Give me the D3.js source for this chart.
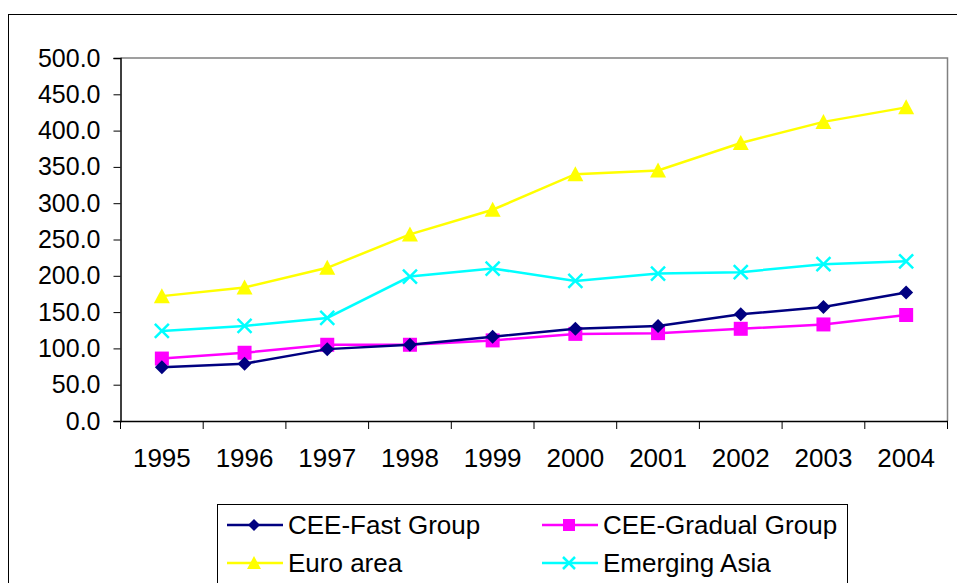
<!DOCTYPE html>
<html>
<head>
<meta charset="utf-8">
<script src="https://cdn.jsdelivr.net/npm/d3@7"></script>
<style>
  body { margin: 0; background: #fff; }
  svg { display: block; font-family: "Liberation Sans", Arial, sans-serif; }
</style>
</head>
<body>
<script>
// data
const years = ["1995", "1996", "1997", "1998", "1999", "2000", "2001", "2002", "2003", "2004"];
const ceeFast = [74, 79, 99, 105, 116, 127, 131, 147, 157, 177];
const ceeGradual = [86, 94, 105, 105, 111, 120, 121, 127, 133, 146];
const euroArea = [172, 184, 211, 257, 291, 340, 345, 383, 412, 432];
const emergingAsia = [124, 131, 142, 199, 210, 193, 203, 205, 216, 220];
const yTicks = [0, 50, 100, 150, 200, 250, 300, 350, 400, 450, 500];

const series = [
	{ name: "CEE-Fast Group", values: ceeFast, color: "#000080", marker: "diamond" },
	{ name: "CEE-Gradual Group", values: ceeGradual, color: "#ff00ff", marker: "square" },
	{ name: "Euro area", values: euroArea, color: "#ffff00", marker: "triangle" },
	{ name: "Emerging Asia", values: emergingAsia, color: "#00ffff", marker: "cross" }
];

const W = 957, H = 583;
const plot = { left: 120.5, right: 947.5, top: 58, bottom: 421 };

const svg = d3.select("body").append("svg")
	.attr("width", W)
	.attr("height", H);

// outer chart frame (runs off the right and bottom edges)
svg.append("rect")
	.attr("x", 8.5).attr("y", 14.5)
	.attr("width", W).attr("height", H)
	.attr("fill", "none")
	.attr("stroke", "#000")
	.attr("stroke-width", 1);

const x = d3.scaleBand()
	.domain(years)
	.range([plot.left, plot.right]);

const y = d3.scaleLinear()
	.domain([0, 500])
	.range([plot.bottom, plot.top]);

// plot area border on top and right
svg.append("path")
	.attr("d", `M${plot.left},${plot.top}H${plot.right}V${plot.bottom}`)
	.attr("fill", "none")
	.attr("stroke", "#808080")
	.attr("stroke-width", 1.5);

// y axis
const yAxis = svg.append("g")
	.attr("transform", `translate(${plot.left},0)`)
	.call(d3.axisLeft(y).tickValues(yTicks).tickSize(7).tickPadding(13).tickFormat(d3.format(".1f")));
yAxis.select(".domain").attr("stroke", "#000").attr("stroke-width", 1.5);
yAxis.selectAll(".tick line").attr("stroke", "#000");
yAxis.selectAll("text")
	.style("font-size", "25px")
	.attr("fill", "#000");

// x axis: ticks sit between categories
const xAxis = svg.append("g")
	.attr("transform", `translate(0,${plot.bottom})`)
	.call(d3.axisBottom(x).tickSize(0).tickPadding(28));
xAxis.select(".domain").attr("stroke", "#000").attr("stroke-width", 1.5);
xAxis.selectAll("text")
	.style("font-size", "26px")
	.attr("fill", "#000");
xAxis.selectAll(".sep")
	.data(years.concat(["end"]))
	.enter().append("line")
	.attr("class", "sep")
	.attr("x1", (d, i) => plot.left + i * x.step())
	.attr("x2", (d, i) => plot.left + i * x.step())
	.attr("y1", 0)
	.attr("y2", 8)
	.attr("stroke", "#000");

function drawMarker(g, type, color, size) {
	const s = size / 2;
	if (type === "diamond") {
		g.append("path").attr("d", `M0,${-s}L${s},0L0,${s}L${-s},0Z`).attr("fill", color);
	} else if (type === "square") {
		g.append("rect").attr("x", -s).attr("y", -s).attr("width", size).attr("height", size).attr("fill", color);
	} else if (type === "triangle") {
		g.append("path").attr("d", `M0,${-s - 1}L${s + 1},${s}L${-s - 1},${s}Z`).attr("fill", color);
	} else {
		g.append("path").attr("d", `M${-s},${-s}L${s},${s}M${-s},${s}L${s},${-s}`)
			.attr("stroke", color).attr("stroke-width", 2.5).attr("fill", "none");
	}
}

const line = d3.line()
	.x((d, i) => x(years[i]) + x.bandwidth() / 2)
	.y(d => y(d));

// draw order like the reference: later series on top
series.slice().reverse().forEach(s => {
	svg.append("path")
		.datum(s.values)
		.attr("d", line)
		.attr("fill", "none")
		.attr("stroke", s.color)
		.attr("stroke-width", 2.5);
	s.values.forEach((v, i) => {
		const g = svg.append("g")
			.attr("transform", `translate(${x(years[i]) + x.bandwidth() / 2},${y(v)})`);
		drawMarker(g, s.marker, s.color, 14);
	});
});

// legend
const legend = svg.append("g");
legend.append("rect")
	.attr("x", 217.5).attr("y", 504.5)
	.attr("width", 630).attr("height", 100)
	.attr("fill", "#fff")
	.attr("stroke", "#000");

const legendPos = [
	{ x: 227, y: 525 }, { x: 542, y: 525 },
	{ x: 227, y: 563 }, { x: 542, y: 563 }
];
series.forEach((s, i) => {
	const p = legendPos[i];
	const g = legend.append("g").attr("transform", `translate(${p.x},${p.y})`);
	g.append("line")
		.attr("x1", 0).attr("x2", 56)
		.attr("stroke", s.color)
		.attr("stroke-width", 2.5);
	const m = g.append("g").attr("transform", "translate(27,0)");
	drawMarker(m, s.marker, s.color, 12);
	g.append("text")
		.attr("x", 61)
		.attr("dy", "0.35em")
		.style("font-size", "26px")
		.text(s.name);
});
</script>
</body>
</html>
